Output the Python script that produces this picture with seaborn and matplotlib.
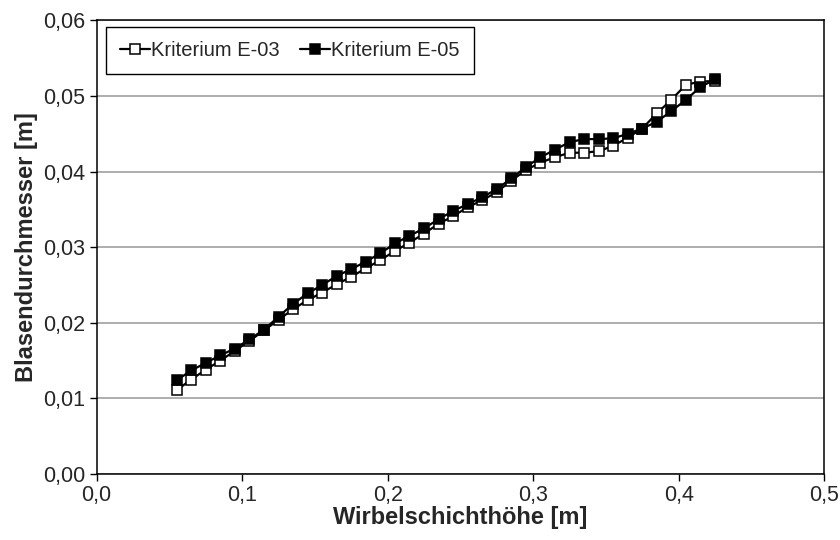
import pandas as pd
import seaborn as sns
import matplotlib.pyplot as plt
from matplotlib.ticker import FuncFormatter

# Wirbelschichthöhe [m]
hoehe = [0.055, 0.065, 0.075, 0.085, 0.095, 0.105, 0.115, 0.125, 0.135, 0.145,
         0.155, 0.165, 0.175, 0.185, 0.195, 0.205, 0.215, 0.225, 0.235, 0.245,
         0.255, 0.265, 0.275, 0.285, 0.295, 0.305, 0.315, 0.325, 0.335, 0.345,
         0.355, 0.365, 0.375, 0.385, 0.395, 0.405, 0.415, 0.425]

# Blasendurchmesser [m]
kriterium_e03 = [0.0111, 0.0125, 0.0138, 0.0150, 0.0163, 0.0176, 0.0190, 0.0204,
                 0.0218, 0.0230, 0.0240, 0.0251, 0.0261, 0.0272, 0.0283, 0.0295,
                 0.0306, 0.0318, 0.0331, 0.0341, 0.0353, 0.0362, 0.0373, 0.0388,
                 0.0402, 0.0412, 0.0419, 0.0425, 0.0425, 0.0427, 0.0434, 0.0445,
                 0.0457, 0.0477, 0.0495, 0.0515, 0.0519, 0.0520]
kriterium_e05 = [0.0124, 0.0137, 0.0147, 0.0157, 0.0166, 0.0178, 0.0191, 0.0208,
                 0.0225, 0.0239, 0.0250, 0.0262, 0.0271, 0.0281, 0.0292, 0.0305,
                 0.0315, 0.0325, 0.0337, 0.0348, 0.0357, 0.0366, 0.0377, 0.0391,
                 0.0406, 0.0419, 0.0429, 0.0439, 0.0443, 0.0443, 0.0444, 0.0450,
                 0.0457, 0.0466, 0.0480, 0.0495, 0.0512, 0.0522]

series_names = ["Kriterium E-03", "Kriterium E-05"]

df = pd.DataFrame({"x": hoehe, "E03": kriterium_e03, "E05": kriterium_e05})

sns.set_style("white")
plt.rcParams["font.family"] = ["Liberation Sans", "DejaVu Sans"]

fig = plt.figure(figsize=(8.4, 5.4), dpi=100)
ax = fig.add_axes([0.1151, 0.1222, 0.866, 0.840])

sns.lineplot(data=df, x="x", y="E03", ax=ax, color="black", lw=1.6,
             marker="s", markersize=6.5, markerfacecolor="white",
             markeredgecolor="black", markeredgewidth=1.1,
             label=series_names[0])
sns.lineplot(data=df, x="x", y="E05", ax=ax, color="black", lw=1.6,
             marker="s", markersize=6.5, markerfacecolor="black",
             markeredgecolor="black", markeredgewidth=1.1,
             label=series_names[1])

ax.set_xlim(0, 0.5)
ax.set_ylim(0, 0.06)
ax.set_xticks([0, 0.1, 0.2, 0.3, 0.4, 0.5])
ax.set_yticks([0, 0.01, 0.02, 0.03, 0.04, 0.05, 0.06])
ax.xaxis.set_major_formatter(FuncFormatter(lambda v, p: f"{v:.1f}".replace(".", ",")))
ax.yaxis.set_major_formatter(FuncFormatter(lambda v, p: f"{v:.2f}".replace(".", ",")))
ax.tick_params(axis="both", direction="out", length=5, width=1, color="black",
               labelsize=15.5, left=True, bottom=True)
ax.tick_params(axis="x", pad=3)
ax.tick_params(axis="y", pad=3)
ax.yaxis.grid(True, color="#a0a0a0", lw=1.2)
ax.xaxis.grid(False)
for s in ax.spines.values():
    s.set_color("black")
    s.set_linewidth(1.1)

ax.set_xlabel("Wirbelschichthöhe [m]", fontsize=17, fontweight="bold", labelpad=0)
ax.set_ylabel("Blasendurchmesser [m]", fontsize=17, fontweight="bold", labelpad=4)

leg = ax.legend(loc="upper left", ncol=2, fontsize=14.5, frameon=True, fancybox=False,
                edgecolor="black", framealpha=1, handlelength=1.5, handletextpad=0.05,
                columnspacing=1.0, borderpad=0.7, borderaxespad=0,
                bbox_to_anchor=(0.013, 0.985))
leg.get_frame().set_linewidth(1.0)

fig.savefig("out.png", dpi=100)
